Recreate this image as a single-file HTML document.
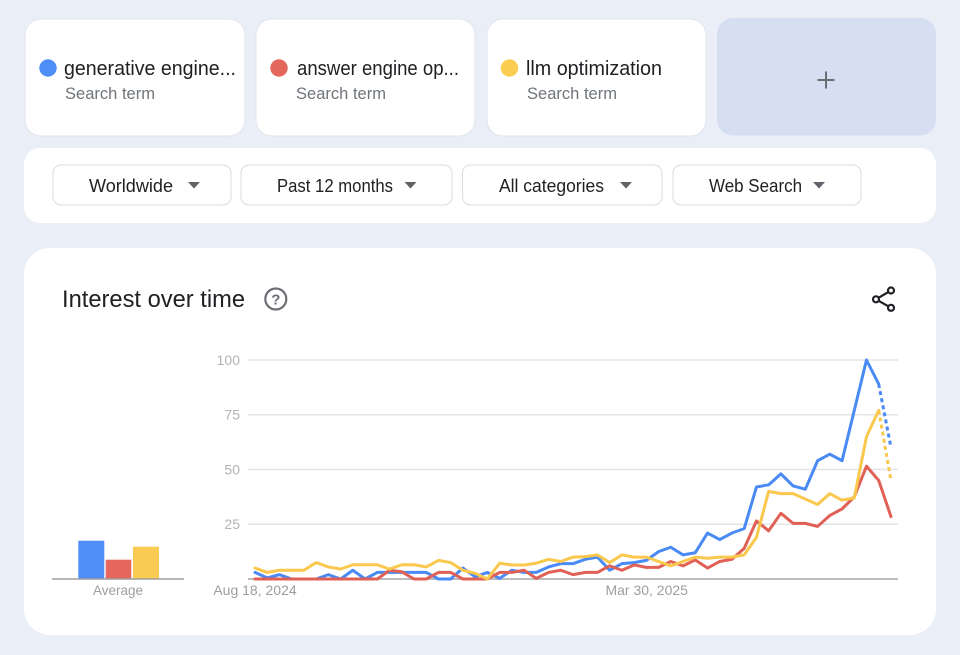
<!DOCTYPE html>
<html><head><meta charset="utf-8"><style>
html,body{margin:0;padding:0;width:960px;height:655px;overflow:hidden;background:#eaeef7;}
svg{display:block;font-family:"Liberation Sans",Arial,sans-serif;}
</style></head><body>
<svg width="960" height="655" viewBox="0 0 960 655" xmlns="http://www.w3.org/2000/svg">
<rect x="0" y="0" width="960" height="655" fill="#eaeef7"/>
<!-- term cards -->
<rect x="25" y="19" width="220" height="117" rx="16" fill="#fff" stroke="#e0e4ec" stroke-width="1"/>
<rect x="256" y="19" width="219" height="117" rx="16" fill="#fff" stroke="#e0e4ec" stroke-width="1"/>
<rect x="487" y="19" width="219" height="117" rx="16" fill="#fff" stroke="#e0e4ec" stroke-width="1"/>
<rect x="717" y="18" width="219" height="117.5" rx="16" fill="#d6def2"/>
<circle cx="48" cy="68" r="8.7" fill="#4d8ef7"/>
<text x="64" y="75" font-size="20" fill="#202124" textLength="172" lengthAdjust="spacingAndGlyphs">generative engine...</text>
<text x="65" y="99" font-size="16.5" fill="#70757a" textLength="90" lengthAdjust="spacingAndGlyphs">Search term</text>
<circle cx="279" cy="68" r="8.7" fill="#e3675d"/>
<text x="297" y="75" font-size="20" fill="#202124" textLength="162" lengthAdjust="spacingAndGlyphs">answer engine op...</text>
<text x="296" y="99" font-size="16.5" fill="#70757a" textLength="90" lengthAdjust="spacingAndGlyphs">Search term</text>
<circle cx="509.5" cy="68" r="8.7" fill="#fbcd50"/>
<text x="526" y="75" font-size="20" fill="#202124" textLength="136" lengthAdjust="spacingAndGlyphs">llm optimization</text>
<text x="527" y="99" font-size="16.5" fill="#70757a" textLength="90" lengthAdjust="spacingAndGlyphs">Search term</text>
<line x1="817.5" y1="80" x2="834.5" y2="80" stroke="#6b6f74" stroke-width="2"/>
<line x1="826" y1="71.5" x2="826" y2="88.5" stroke="#6b6f74" stroke-width="2"/>
<!-- filter bar -->
<rect x="24" y="148" width="912" height="75" rx="16" fill="#fff"/>
<rect x="53" y="165" width="178" height="40" rx="8" fill="#fff" stroke="#dadce0" stroke-width="1"/>
<rect x="241" y="165" width="211" height="40" rx="8" fill="#fff" stroke="#dadce0" stroke-width="1"/>
<rect x="462.5" y="165" width="199.5" height="40" rx="8" fill="#fff" stroke="#dadce0" stroke-width="1"/>
<rect x="673" y="165" width="188" height="40" rx="8" fill="#fff" stroke="#dadce0" stroke-width="1"/>
<text x="89" y="192" font-size="18" fill="#202124" textLength="84" lengthAdjust="spacingAndGlyphs">Worldwide</text>
<text x="277" y="192" font-size="18" fill="#202124" textLength="116" lengthAdjust="spacingAndGlyphs">Past 12 months</text>
<text x="499" y="192" font-size="18" fill="#202124" textLength="105" lengthAdjust="spacingAndGlyphs">All categories</text>
<text x="709" y="192" font-size="18" fill="#202124" textLength="93" lengthAdjust="spacingAndGlyphs">Web Search</text>
<polygon points="188,182 200,182 194,188.5" fill="#5f6368"/>
<polygon points="404.5,182 416.5,182 410.5,188.5" fill="#5f6368"/>
<polygon points="620,182 632,182 626,188.5" fill="#5f6368"/>
<polygon points="813,182 825,182 819,188.5" fill="#5f6368"/>
<!-- chart card -->
<rect x="24" y="248" width="912" height="387" rx="26" fill="#fff"/>
<text x="62" y="307" font-size="24" fill="#202124" textLength="183" lengthAdjust="spacingAndGlyphs">Interest over time</text>
<circle cx="275.8" cy="299" r="10.5" fill="none" stroke="#6b6f74" stroke-width="2.2"/>
<text x="275.8" y="304.5" font-size="15" font-weight="bold" fill="#6b6f74" text-anchor="middle">?</text>
<g stroke="#202124" stroke-width="2.2" fill="none">
<line x1="876" y1="299.3" x2="891" y2="290.5"/>
<line x1="876" y1="299.3" x2="891" y2="307.8"/>
<circle cx="891" cy="290.5" r="3" fill="#fff"/>
<circle cx="876" cy="299.3" r="3" fill="#fff"/>
<circle cx="891" cy="307.8" r="3" fill="#fff"/>
</g>
<!-- gridlines -->
<g stroke="#e4e4e4" stroke-width="1.5">
<line x1="248" y1="360" x2="898" y2="360"/>
<line x1="248" y1="414.75" x2="898" y2="414.75"/>
<line x1="248" y1="469.5" x2="898" y2="469.5"/>
<line x1="248" y1="524.25" x2="898" y2="524.25"/>
</g>
<line x1="248" y1="579" x2="898" y2="579" stroke="#bdbdbd" stroke-width="2"/>
<g font-size="14" fill="#b3b3b3" text-anchor="end">
<text x="240" y="365">100</text>
<text x="240" y="419.7">75</text>
<text x="240" y="474.5">50</text>
<text x="240" y="529.2">25</text>
</g>
<g font-size="14" fill="#9e9e9e" text-anchor="middle">
<text x="255" y="595">Aug 18, 2024</text>
<text x="646.7" y="595">Mar 30, 2025</text>
</g>
<!-- average bars -->
<rect x="78.3" y="540.7" width="26" height="38.3" fill="#4f8ff7"/>
<rect x="105.7" y="559.7" width="25.6" height="19.3" fill="#e5675d"/>
<rect x="133" y="546.7" width="26" height="32.3" fill="#f9cb52"/>
<line x1="52" y1="579" x2="184" y2="579" stroke="#9e9e9e" stroke-width="1.5"/>
<text x="118" y="595" font-size="13.5" fill="#9e9e9e" text-anchor="middle">Average</text>
<!-- series -->
<g transform="translate(255,579) scale(12.23,-2.19)" fill="none" stroke-width="3" stroke-linejoin="round" stroke-linecap="round">
<polyline vector-effect="non-scaling-stroke" stroke="#4a8af4" points="0,3 1,0.5 2,2 3,0 4,0 5,0 6,2 7,0 8,4 9,0 10,3 11,3 12,3 13,3 14,3 15,0 16,0 17,5 18,1 19,3 20,0.3 21,4 22,3 23,3 24,5.5 25,7 26,7 27,9 28,10 29,4 30,7 31,7.5 32,8.5 33,12.5 34,14.5 35,11 36,12 37,21 38,18 39,21 40,23 41,42 42,43 43,48 44,42.5 45,41 46,54 47,57 48,54 49,77 50,100 51,89"/>
<polyline vector-effect="non-scaling-stroke" stroke="#e06055" points="0,0 1,0 2,0 3,0 4,0 5,0 6,0 7,0 8,0 9,0 10,0 11,4 12,3.3 13,0 14,0 15,3 16,3 17,0 18,0 19,0 20,3 21,3 22,4 23,0.3 24,3 25,4 26,2 27,3 28,3 29,6 30,4 31,6.4 32,5.3 33,5.3 34,8 35,6 36,8.7 37,5 38,8 39,9 40,14 41,26.5 42,22 43,30 44,25.4 45,25.4 46,24 47,29 48,32 49,37.5 50,51.5 51,45 52,28.5"/>
<polyline vector-effect="non-scaling-stroke" stroke="#f9c84d" points="0,5 1,3 2,4 3,4 4,4 5,7.5 6,5.5 7,4.5 8,6.5 9,6.5 10,6.5 11,4.5 12,6.5 13,6.5 14,5.5 15,8.5 16,7.5 17,4 18,2.6 19,0 20,7.2 21,6.4 22,6.4 23,7.2 24,9 25,8 26,10 27,10.2 28,11 29,7.5 30,11 31,10 32,10 33,8 34,6 35,8 36,10 37,9.5 38,10 39,10 40,11 41,19 42,40 43,39 44,39 45,36.5 46,34 47,39 48,36 49,37 50,65 51,77"/>
</g>
<line x1="878.7" y1="384.1" x2="891" y2="447.6" stroke="#4a8af4" stroke-width="3" stroke-dasharray="4 3.2"/>
<line x1="878.7" y1="410.4" x2="891" y2="480.5" stroke="#f9c84d" stroke-width="3" stroke-dasharray="4 3.2"/>
</svg>
</body></html>
